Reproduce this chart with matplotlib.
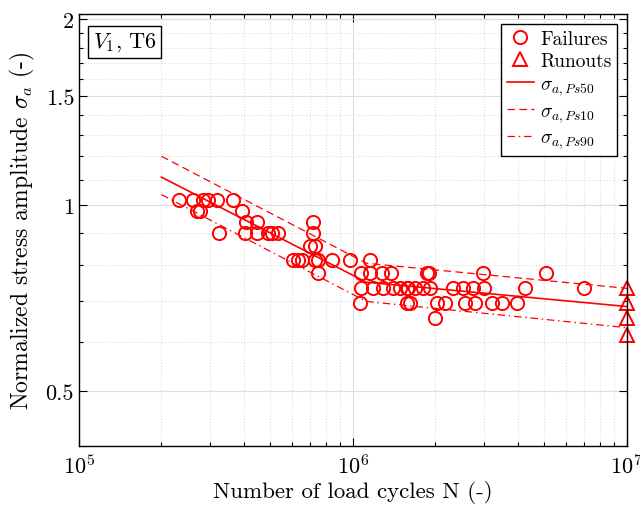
import numpy as np
import matplotlib
matplotlib.use("Agg")
import matplotlib.pyplot as plt
from matplotlib.ticker import FixedLocator, NullFormatter, LogLocator

plt.rcParams["font.family"] = "serif"
plt.rcParams["font.serif"] = ["cmr10", "DejaVu Serif"]
plt.rcParams["mathtext.fontset"] = "cm"
plt.rcParams["axes.formatter.use_mathtext"] = True
plt.rcParams["axes.unicode_minus"] = False

# Failures: (cycles, normalized stress amplitude)
fail_n = [2.32e5, 2.61e5, 2.84e5, 2.96e5, 3.19e5, 3.65e5,
          2.70e5, 2.76e5, 3.94e5,
          4.07e5, 4.46e5, 7.15e5,
          3.24e5, 4.03e5, 4.46e5, 4.90e5, 5.06e5, 5.35e5, 7.15e5,
          6.97e5, 7.30e5,
          6.04e5, 6.30e5, 6.51e5, 7.27e5, 7.45e5, 8.38e5, 9.75e5, 1.15e6,
          7.45e5, 1.07e6, 1.15e6, 1.28e6, 1.38e6, 1.86e6, 1.89e6, 2.98e6, 5.06e6,
          1.07e6, 1.18e6, 1.29e6, 1.40e6, 1.49e6, 1.57e6, 1.59e6, 1.68e6, 1.80e6,
          1.91e6, 2.32e6, 2.52e6, 2.74e6, 3.01e6, 4.24e6, 6.97e6,
          1.06e6, 1.57e6, 1.61e6, 2.03e6, 2.17e6, 2.56e6, 2.79e6, 3.21e6, 3.50e6, 3.97e6,
          1.99e6]
fail_s = [1.02] * 6 + [0.98] * 3 + [0.94] * 3 + [0.90] * 7 + [0.86] * 2 \
    + [0.815] * 8 + [0.775] * 9 + [0.735] * 16 + [0.695] * 10 + [0.655]

# Runouts at 1e7 cycles
run_n = [1e7, 1e7, 1e7, 1e7]
run_s = [0.735, 0.695, 0.655, 0.615]

# Probability curves (bilinear in log-log)
curve_n = [2e5, 1.12e6, 1e7]
ps50 = [1.11, 0.750, 0.685]
ps10 = [1.20, 0.805, 0.733]
ps90 = [1.04, 0.698, 0.633]

fig = plt.figure(figsize=(6.4, 5.1), dpi=100)
ax = fig.add_axes([0.1234, 0.1235, 0.856, 0.847])

red = "#ff0000"
ax.plot(fail_n, fail_s, "o", mfc="none", mec=red, mew=1.4, ms=9.5, ls="none", label="Failures")
ax.plot(run_n, run_s, "^", mfc="none", mec=red, mew=1.4, ms=9.5, ls="none", label="Runouts", clip_on=False)
ax.plot(curve_n, ps50, "-", color=red, lw=1.2, label=r"$\sigma_{a,Ps50}$")
ax.plot(curve_n, ps10, color=red, lw=0.9, dashes=(6, 3.5), label=r"$\sigma_{a,Ps10}$")
ax.plot(curve_n, ps90, color=red, lw=0.9, dashes=(6, 3, 1.2, 3), label=r"$\sigma_{a,Ps90}$")

ax.set_xscale("log")
ax.set_yscale("log")
ax.set_xlim(1e5, 1e7)
ax.set_ylim(0.407, 2.04)

ax.yaxis.set_major_locator(FixedLocator([0.5, 1, 1.5, 2]))
ax.set_yticklabels(["0.5", "1", "1.5", "2"])
ax.yaxis.set_minor_locator(FixedLocator([0.6, 0.7, 0.8, 0.9, 1.1, 1.2, 1.3, 1.4, 1.6, 1.7, 1.8, 1.9]))
ax.yaxis.set_minor_formatter(NullFormatter())
ax.xaxis.set_minor_locator(LogLocator(base=10, subs=np.arange(2, 10)))
ax.xaxis.set_minor_formatter(NullFormatter())

ax.tick_params(which="both", direction="in", top=True, right=True, labelsize=16, width=0.8)
ax.tick_params(which="major", length=6)
ax.tick_params(which="minor", length=3)
ax.tick_params(axis="x", pad=5)
ax.grid(which="major", color="#dcdcdc", lw=0.8)
ax.grid(which="minor", color="#dcdcdc", lw=0.8, ls=":")
ax.set_axisbelow(True)
for sp in ax.spines.values():
    sp.set_linewidth(1.0)

ax.set_xlabel("Number of load cycles N (-)", fontsize=16.5, labelpad=2)
ax.set_ylabel(r"Normalized stress amplitude $\sigma_a$ (-)", fontsize=17, labelpad=6)

leg = ax.legend(loc="upper right", fontsize=14, fancybox=False, edgecolor="black",
                framealpha=1, borderaxespad=0.5, handlelength=1.4, handletextpad=0.3,
                labelspacing=0.25, borderpad=0.3)
leg.get_frame().set_linewidth(1.0)

ax.text(0.025, 0.962, r"$V_1$, T6", transform=ax.transAxes, fontsize=16, va="top", ha="left",
        bbox=dict(boxstyle="square,pad=0.2", fc="white", ec="black", lw=1.0))

fig.savefig("out.png", dpi=100)
